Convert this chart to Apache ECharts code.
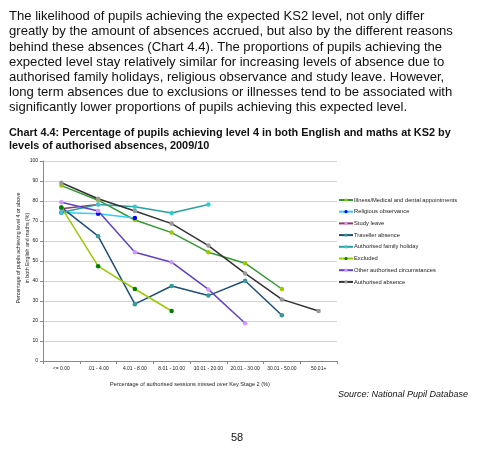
<!DOCTYPE html>
<html>
<head>
<meta charset="utf-8">
<script src="https://cdn.jsdelivr.net/npm/echarts@6/dist/echarts.min.js"></script>
<style>
  html, body { margin: 0; padding: 0; background: #fff; }
  #main { width: 500px; height: 465px; }
</style>
</head>
<body>
<div id="main"></div>
<script>
// absence bands (x axis)
const categories = ['<= 0.00', '.01 - 4.00', '4.01 - 8.00', '8.01 - 10.00', '10.01 - 20.00', '20.01 - 30.00', '30.01 - 50.00', '50.01+']
const yTicks = [0, 10, 20, 30, 40, 50, 60, 70, 80, 90, 100]

// % achieving level 4
const illness = [87.7, 80.4, 70.5, 64.2, 54.4, 48.9, 36.0, null]
const religious = [74.3, 73.6, 71.5, null, null, null, null, null]
const studyLeave = [76.1, 78.3, null, null, null, null, null, null]
const traveller = [76.8, 62.4, 28.4, 37.5, 32.7, 40.1, 22.9, null]
const familyHoliday = [74.3, 78.3, 77.1, 74.0, 78.3, null, null, null]
const excluded = [76.8, 47.4, 36.0, 25.0, null, null, null, null]
const otherAuth = [79.4, 75.0, 54.4, 49.4, 35.8, 18.9, null, null]
const authorised = [89.1, 81.1, 75.0, 68.7, 57.7, 43.8, 30.8, 25.0]

const seriesDefs = [
  ['Illness/Medical and dental appointments', illness, '#339933', '#99CC00'],
  ['Religious observance', religious, '#33CCFF', '#0000FF'],
  ['Study leave', studyLeave, '#993366', '#CC99FF'],
  ['Traveller absence', traveller, '#1F4E79', '#339999'],
  ['Authorised family holiday', familyHoliday, '#2AA0A0', '#33CCCC'],
  ['Excluded', excluded, '#99CC00', '#008000'],
  ['Other authorised circumstances', otherAuth, '#6040C8', '#CC99FF'],
  ['Authorised absence', authorised, '#333333', '#999999']
]

const paragraph = [
  'The likelihood of pupils achieving the expected KS2 level, not only differ',
  'greatly by the amount of absences accrued, but also by the different reasons',
  'behind these absences (Chart 4.4). The proportions of pupils achieving the',
  'expected level stay relatively similar for increasing levels of absence due to',
  'authorised family holidays, religious observance and study leave. However,',
  'long term absences due to exclusions or illnesses tend to be associated with',
  'significantly lower proportions of pupils achieving this expected level.'
]

const chart = echarts.init(document.getElementById('main'))

const texts = paragraph.map((line, i) => ({
  type: 'text', left: 9, top: 10 + i * 15.2,
  style: { text: line, font: '13.1px "Liberation Sans", Arial, sans-serif', fill: '#111' }
}))
texts.push({
  type: 'text', left: 9, top: 126,
  style: {
    text: 'Chart 4.4: Percentage of pupils achieving level 4 in both English and maths at KS2 by\nlevels of authorised absences, 2009/10',
    font: 'bold 10.9px "Liberation Sans", Arial, sans-serif', lineHeight: 13, fill: '#111'
  }
})
// y axis title
texts.push({
  type: 'text', x: 23, y: 248, rotation: Math.PI / 2,
  style: {
    text: 'Percentage of pupils achieving level 4 or above\nin both English and maths (%)',
    font: '5.3px "Liberation Sans", Arial, sans-serif', lineHeight: 9.5, fill: '#222',
    align: 'center', verticalAlign: 'middle'
  }
})
texts.push({
  type: 'text', left: 338, top: 390,
  style: { text: 'Source: National Pupil Database', font: 'italic 9px "Liberation Sans", Arial, sans-serif', fill: '#111' }
})
texts.push({
  type: 'text', left: 231, top: 432,
  style: { text: '58', font: '11px "Liberation Sans", Arial, sans-serif', fill: '#111' }
})

chart.setOption({
  animation: false,
  textStyle: { fontFamily: '"Liberation Sans", Arial, sans-serif' },
  grid: { left: 43, right: 163, top: 161, bottom: 104, outerBoundsMode: 'none', containLabel: false },
  legend: {
    orient: 'vertical', left: 338, top: 197, padding: 0,
    itemWidth: 14, itemHeight: 4, itemGap: 5.7,
    textStyle: { fontSize: 5.8, lineHeight: 6, color: '#222', padding: [0, 0, 0, -4] },
    data: seriesDefs.map(d => d[0])
  },
  xAxis: {
    type: 'category', data: categories, boundaryGap: true,
    name: 'Percentage of authorised sessions missed over Key Stage 2 (%)',
    nameLocation: 'middle', nameGap: 20,
    nameTextStyle: { fontSize: 5.6, color: '#222' },
    axisLine: { lineStyle: { color: '#888' } },
    axisTick: { show: true, length: 3, lineStyle: { color: '#888' } },
    axisLabel: { fontSize: 5, color: '#222', margin: 5, interval: 0 }
  },
  yAxis: {
    type: 'value', min: yTicks[0], max: yTicks[yTicks.length - 1], interval: 10,
    axisLine: { show: true, lineStyle: { color: '#888' } },
    axisTick: { show: true, length: 3, lineStyle: { color: '#888' } },
    axisLabel: { fontSize: 5, color: '#222', margin: 5 },
    splitLine: { lineStyle: { color: '#D4D4D4' } }
  },
  graphic: texts,
  series: seriesDefs.map(([name, data, line, marker]) => ({
    name, type: 'line', data,
    symbol: 'circle', symbolSize: 4.5,
    lineStyle: { color: line, width: 1.5 },
    itemStyle: { color: marker, borderWidth: 0 },
    connectNulls: false
  }))
})
</script>
</body>
</html>
